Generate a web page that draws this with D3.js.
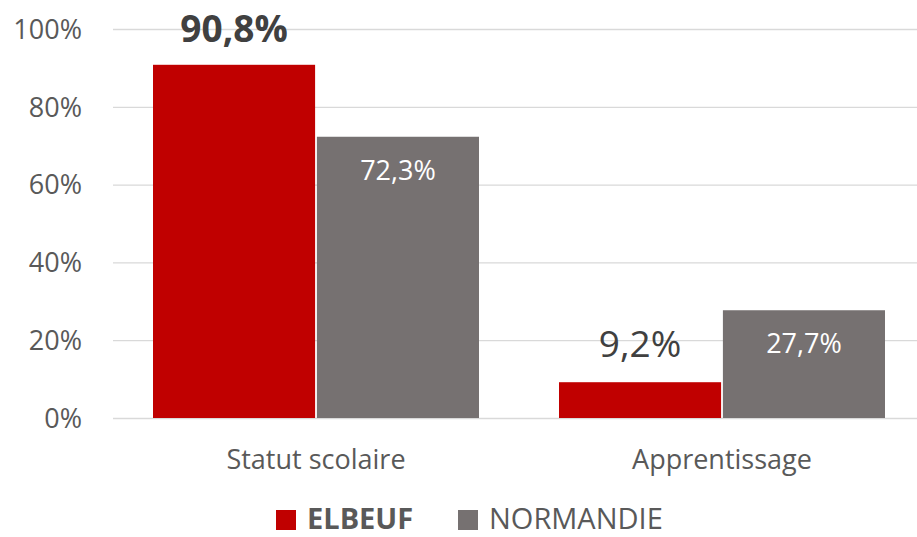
<!DOCTYPE html>
<html>
<head>
<meta charset="utf-8">
<script src="https://cdn.jsdelivr.net/npm/d3@7"></script>
<style>
  body { margin: 0; background: #fff; }
  svg { display: block; font-family: "Open Sans", sans-serif; }
</style>
</head>
<body>
<div id="chart"></div>
<script>
// chart data
var categories = ["Statut scolaire", "Apprentissage"];
var seriesNames = ["ELBEUF", "NORMANDIE"];
var elbeuf = [90.8, 9.2];
var normandie = [72.3, 27.7];
var yTicks = [0, 20, 40, 60, 80, 100];

var colors = { ELBEUF: "#c00000", NORMANDIE: "#767171" };

var W = 917, H = 537;
var plotLeft = 113, plotRight = 925, plotTop = 29, plotBottom = 418;

var svg = d3.select("#chart").append("svg")
  .attr("width", W).attr("height", H);

// groups are 326px wide inside a 406px step
var x = d3.scaleBand().domain(categories).range([plotLeft, plotRight])
  .paddingInner(80 / 406).paddingOuter(40 / 406);
var xs = d3.scaleBand().domain(seriesNames).range([0, x.bandwidth()]).paddingInner(0.011);
var y = d3.scaleLinear().domain([0, 100]).range([plotBottom, plotTop]);

// gridlines
svg.append("g").selectAll("line").data(yTicks).enter().append("line")
  .attr("x1", plotLeft).attr("x2", W)
  .attr("y1", d => y(d) + 0.5).attr("y2", d => y(d) + 0.5)
  .attr("stroke", "#d9d9d9").attr("stroke-width", 1.3);

// y axis labels
svg.append("g").selectAll("text").data(yTicks).enter().append("text")
  .attr("x", 82).attr("y", d => y(d))
  .attr("dy", "0.36em")
  .attr("text-anchor", "end")
  .attr("fill", "#595959").attr("font-size", 27)
  .text(d => d + "%");

var rows = categories.map(function (c, i) {
  return [
    { cat: c, s: "ELBEUF", v: elbeuf[i] },
    { cat: c, s: "NORMANDIE", v: normandie[i] }
  ];
});

var groups = svg.selectAll(".grp").data(rows).enter().append("g")
  .attr("transform", d => "translate(" + x(d[0].cat) + ",0)");

groups.selectAll("rect").data(d => d).enter().append("rect")
  .attr("x", d => xs(d.s))
  .attr("width", xs.bandwidth())
  .attr("y", d => y(d.v))
  .attr("height", d => y(0) - y(d.v))
  .attr("fill", d => colors[d.s]);

function fmt(v) { return v.toFixed(1).replace(".", ",") + "%"; }

// data labels
groups.selectAll(".lbl").data(d => d).enter().append("text")
  .attr("x", d => xs(d.s) + xs.bandwidth() / 2)
  .attr("y", function (d) {
    if (d.s === "NORMANDIE") return y(d.v) + 43;
    return y(d.v) - (d.v > 50 ? 23 : 25);
  })
  .attr("text-anchor", "middle")
  .attr("font-size", d => d.s === "NORMANDIE" ? 27 : 37)
  .attr("font-weight", d => (d.s === "ELBEUF" && d.v > 50) ? "bold" : "normal")
  .attr("fill", d => d.s === "NORMANDIE" ? "#ffffff" : "#404040")
  .text(d => fmt(d.v));

// category labels
svg.append("g").selectAll("text").data(categories).enter().append("text")
  .attr("x", d => x(d) + x.bandwidth() / 2)
  .attr("y", 469)
  .attr("text-anchor", "middle")
  .attr("fill", "#595959").attr("font-size", 27)
  .text(d => d);

// legend (kept just inside the bottom edge)
var legendX = [276, 458];
var leg = svg.append("g").selectAll("g").data(seriesNames).enter().append("g")
  .attr("transform", (d, i) => "translate(" + legendX[i] + ",510)");
leg.append("rect").attr("width", 20).attr("height", 20)
  .attr("fill", d => colors[d]);
leg.append("text").attr("x", 31).attr("y", 19)
  .attr("fill", "#595959").attr("font-size", 29)
  .attr("font-weight", (d, i) => i === 0 ? "bold" : "normal")
  .text(d => d);
</script>
</body>
</html>
